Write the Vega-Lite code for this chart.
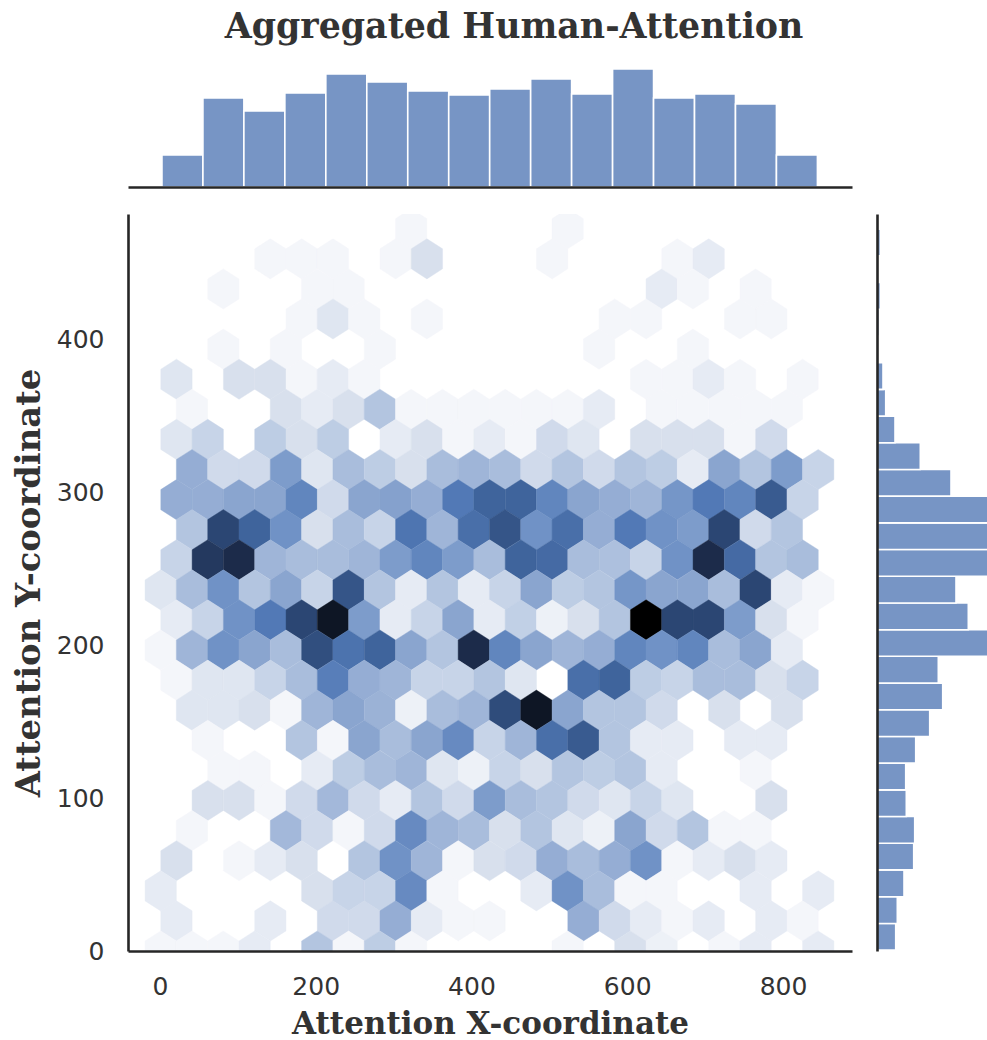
{"$schema":"https://vega.github.io/schema/vega-lite/v6.json","background":"white","padding":{"left":12,"top":10,"right":0,"bottom":0},"config":{"view":{"stroke":null},"font":"DejaVu Sans"},"bounds":"flush","columns":2,"spacing":{"row":27,"column":25},"concat":[
{"width":724,"height":119,"title":{"text":"Aggregated Human-Attention","font":"DejaVu Serif","fontWeight":"bold","fontSize":34.8,"color":"#333333","anchor":"middle","dx":24,"offset":22},
"data":{"values":[{"a":2.6,"b":55.2,"n":32},{"a":55.2,"b":107.8,"n":89},{"a":107.8,"b":160.4,"n":76},{"a":160.4,"b":213,"n":94},{"a":213,"b":265.6,"n":113},{"a":265.6,"b":318.2,"n":105},{"a":318.2,"b":370.8,"n":96},{"a":370.8,"b":423.4,"n":92},{"a":423.4,"b":476,"n":98},{"a":476,"b":528.6,"n":108},{"a":528.6,"b":581.2,"n":93},{"a":581.2,"b":633.8,"n":118},{"a":633.8,"b":686.4,"n":89},{"a":686.4,"b":739,"n":93},{"a":739,"b":791.6,"n":83},{"a":791.6,"b":844.2,"n":32}]},
"mark":{"type":"bar","color":"#7795c5","stroke":"white","strokeWidth":1.6},
"encoding":{"x":{"field":"a","type":"quantitative","scale":{"domain":[-41,888.6],"nice":false,"zero":false},"axis":{"zindex":1,"labels":false,"ticks":false,"grid":false,"title":null,"domainColor":"#262626","domainWidth":2.6}},"x2":{"field":"b"},"y":{"field":"n","type":"quantitative","scale":{"domain":[0,119],"nice":false},"axis":null},"y2":{"datum":0}}},
{"width":110,"height":119,"data":{"values":[{"a":1}]},"mark":{"type":"rule","opacity":0},"encoding":{}},
{"width":724,"height":737,
"data":{"values":[
{"x":322.6,"y":472.1,"c":1},{"x":523.6,"y":472.1,"c":1},
{"x":141.8,"y":452.4,"c":1},{"x":182,"y":452.4,"c":1},{"x":222.2,"y":452.4,"c":1},{"x":302.6,"y":452.4,"c":1},{"x":342.8,"y":452.4,"c":3},{"x":503.6,"y":452.4,"c":1},{"x":664.4,"y":452.4,"c":1},{"x":704.6,"y":452.4,"c":2},
{"x":81.4,"y":432.7,"c":1},{"x":202,"y":432.7,"c":1},{"x":242.2,"y":432.7,"c":1},{"x":644.2,"y":432.7,"c":2},{"x":684.4,"y":432.7,"c":1},{"x":764.8,"y":432.7,"c":1},
{"x":182,"y":413.1,"c":1},{"x":222.2,"y":413.1,"c":2.5},{"x":262.4,"y":413.1,"c":1},{"x":342.8,"y":413.1,"c":1},{"x":584,"y":413.1,"c":1},{"x":624.2,"y":413.1,"c":1},{"x":744.8,"y":413.1,"c":1},{"x":785,"y":413.1,"c":1},
{"x":81.4,"y":393.4,"c":1},{"x":161.8,"y":393.4,"c":1},{"x":282.4,"y":393.4,"c":1},{"x":563.8,"y":393.4,"c":1},{"x":684.4,"y":393.4,"c":1},
{"x":21.2,"y":373.7,"c":2.5},{"x":101.6,"y":373.7,"c":3},{"x":141.8,"y":373.7,"c":3},{"x":182,"y":373.7,"c":1},{"x":222.2,"y":373.7,"c":2},{"x":262.4,"y":373.7,"c":1},{"x":624.2,"y":373.7,"c":1},{"x":664.4,"y":373.7,"c":1},{"x":704.6,"y":373.7,"c":2},{"x":744.8,"y":373.7,"c":1},{"x":825.2,"y":373.7,"c":1},
{"x":41.2,"y":354.1,"c":1},{"x":161.8,"y":354.1,"c":3},{"x":202,"y":354.1,"c":2},{"x":242.2,"y":354.1,"c":3},{"x":282.4,"y":354.1,"c":5},{"x":322.6,"y":354.1,"c":1},{"x":362.8,"y":354.1,"c":1},{"x":403,"y":354.1,"c":1},{"x":443.2,"y":354.1,"c":1},{"x":483.4,"y":354.1,"c":1},{"x":523.6,"y":354.1,"c":1},{"x":563.8,"y":354.1,"c":2},{"x":644.2,"y":354.1,"c":1},{"x":684.4,"y":354.1,"c":1},{"x":724.6,"y":354.1,"c":1},{"x":764.8,"y":354.1,"c":1},{"x":805,"y":354.1,"c":1},
{"x":21.2,"y":334.4,"c":2.5},{"x":61.4,"y":334.4,"c":4},{"x":141.8,"y":334.4,"c":4.5},{"x":182,"y":334.4,"c":3},{"x":222.2,"y":334.4,"c":4.5},{"x":302.6,"y":334.4,"c":2},{"x":342.8,"y":334.4,"c":3},{"x":383,"y":334.4,"c":1},{"x":423.2,"y":334.4,"c":2},{"x":463.4,"y":334.4,"c":1},{"x":503.6,"y":334.4,"c":3.5},{"x":543.8,"y":334.4,"c":2.5},{"x":624.2,"y":334.4,"c":3},{"x":664.4,"y":334.4,"c":3},{"x":704.6,"y":334.4,"c":3},{"x":744.8,"y":334.4,"c":1},{"x":785,"y":334.4,"c":3.5},
{"x":41.2,"y":314.7,"c":6.5},{"x":81.4,"y":314.7,"c":3.5},{"x":121.6,"y":314.7,"c":3.5},{"x":161.8,"y":314.7,"c":7.5},{"x":202,"y":314.7,"c":2.5},{"x":242.2,"y":314.7,"c":5.5},{"x":282.4,"y":314.7,"c":4.5},{"x":322.6,"y":314.7,"c":3},{"x":362.8,"y":314.7,"c":5.5},{"x":403,"y":314.7,"c":6},{"x":443.2,"y":314.7,"c":5.5},{"x":483.4,"y":314.7,"c":3.5},{"x":523.6,"y":314.7,"c":5},{"x":563.8,"y":314.7,"c":3.5},{"x":604,"y":314.7,"c":5},{"x":644.2,"y":314.7,"c":4.5},{"x":684.4,"y":314.7,"c":2},{"x":724.6,"y":314.7,"c":7},{"x":764.8,"y":314.7,"c":5},{"x":805,"y":314.7,"c":7.5},{"x":845.2,"y":314.7,"c":4},
{"x":21.2,"y":295,"c":6.5},{"x":61.4,"y":295,"c":6.5},{"x":101.6,"y":295,"c":7},{"x":141.8,"y":295,"c":7},{"x":182,"y":295,"c":8.5},{"x":222.2,"y":295,"c":3.5},{"x":262.4,"y":295,"c":7},{"x":302.6,"y":295,"c":7.2},{"x":342.8,"y":295,"c":6.5},{"x":383,"y":295,"c":9},{"x":423.2,"y":295,"c":10},{"x":463.4,"y":295,"c":10},{"x":503.6,"y":295,"c":8.5},{"x":543.8,"y":295,"c":7},{"x":584,"y":295,"c":6.5},{"x":624.2,"y":295,"c":6},{"x":664.4,"y":295,"c":7.8},{"x":704.6,"y":295,"c":9},{"x":744.8,"y":295,"c":8.5},{"x":785,"y":295,"c":10.3},{"x":825.2,"y":295,"c":4},
{"x":41.2,"y":275.4,"c":5},{"x":81.4,"y":275.4,"c":11},{"x":121.6,"y":275.4,"c":10},{"x":161.8,"y":275.4,"c":8},{"x":202,"y":275.4,"c":3},{"x":242.2,"y":275.4,"c":5.5},{"x":282.4,"y":275.4,"c":4},{"x":322.6,"y":275.4,"c":9.2},{"x":362.8,"y":275.4,"c":6},{"x":403,"y":275.4,"c":9.5},{"x":443.2,"y":275.4,"c":10.5},{"x":483.4,"y":275.4,"c":8},{"x":523.6,"y":275.4,"c":9.5},{"x":563.8,"y":275.4,"c":6.5},{"x":604,"y":275.4,"c":9},{"x":644.2,"y":275.4,"c":8},{"x":684.4,"y":275.4,"c":7.5},{"x":724.6,"y":275.4,"c":11},{"x":764.8,"y":275.4,"c":3.5},{"x":805,"y":275.4,"c":5},
{"x":21.2,"y":255.7,"c":4},{"x":61.4,"y":255.7,"c":11.5},{"x":101.6,"y":255.7,"c":12},{"x":141.8,"y":255.7,"c":6},{"x":182,"y":255.7,"c":5.5},{"x":222.2,"y":255.7,"c":5.5},{"x":262.4,"y":255.7,"c":6},{"x":302.6,"y":255.7,"c":7.5},{"x":342.8,"y":255.7,"c":8.5},{"x":383,"y":255.7,"c":7.5},{"x":423.2,"y":255.7,"c":5.5},{"x":463.4,"y":255.7,"c":10},{"x":503.6,"y":255.7,"c":9.7},{"x":543.8,"y":255.7,"c":5.5},{"x":584,"y":255.7,"c":5.3},{"x":624.2,"y":255.7,"c":4},{"x":664.4,"y":255.7,"c":8},{"x":704.6,"y":255.7,"c":12},{"x":744.8,"y":255.7,"c":9.7},{"x":785,"y":255.7,"c":5},{"x":825.2,"y":255.7,"c":5.5},
{"x":1,"y":236,"c":2.5},{"x":41.2,"y":236,"c":5.5},{"x":81.4,"y":236,"c":8},{"x":121.6,"y":236,"c":5},{"x":161.8,"y":236,"c":7},{"x":202,"y":236,"c":4},{"x":242.2,"y":236,"c":10.5},{"x":282.4,"y":236,"c":5},{"x":322.6,"y":236,"c":2},{"x":362.8,"y":236,"c":5},{"x":403,"y":236,"c":2},{"x":443.2,"y":236,"c":4},{"x":483.4,"y":236,"c":7},{"x":523.6,"y":236,"c":4.5},{"x":563.8,"y":236,"c":5},{"x":604,"y":236,"c":7.8},{"x":644.2,"y":236,"c":7},{"x":684.4,"y":236,"c":7},{"x":724.6,"y":236,"c":5.5},{"x":764.8,"y":236,"c":11},{"x":805,"y":236,"c":2},{"x":845.2,"y":236,"c":1},
{"x":21.2,"y":216.4,"c":2},{"x":61.4,"y":216.4,"c":4},{"x":101.6,"y":216.4,"c":8},{"x":141.8,"y":216.4,"c":9},{"x":182,"y":216.4,"c":11},{"x":222.2,"y":216.4,"c":12.5},{"x":262.4,"y":216.4,"c":7.5},{"x":302.6,"y":216.4,"c":2},{"x":342.8,"y":216.4,"c":4},{"x":383,"y":216.4,"c":7},{"x":423.2,"y":216.4,"c":2},{"x":463.4,"y":216.4,"c":4.3},{"x":503.6,"y":216.4,"c":1.5},{"x":543.8,"y":216.4,"c":3},{"x":584,"y":216.4,"c":5},{"x":624.2,"y":216.4,"c":13},{"x":664.4,"y":216.4,"c":11},{"x":704.6,"y":216.4,"c":11},{"x":744.8,"y":216.4,"c":7.5},{"x":785,"y":216.4,"c":3},{"x":825.2,"y":216.4,"c":1},
{"x":1,"y":196.7,"c":1},{"x":41.2,"y":196.7,"c":6},{"x":81.4,"y":196.7,"c":8},{"x":121.6,"y":196.7,"c":7},{"x":161.8,"y":196.7,"c":5.5},{"x":202,"y":196.7,"c":10.7},{"x":242.2,"y":196.7,"c":9.3},{"x":282.4,"y":196.7,"c":10},{"x":322.6,"y":196.7,"c":7},{"x":362.8,"y":196.7,"c":5},{"x":403,"y":196.7,"c":12},{"x":443.2,"y":196.7,"c":8.5},{"x":483.4,"y":196.7,"c":7},{"x":523.6,"y":196.7,"c":6},{"x":563.8,"y":196.7,"c":6.5},{"x":604,"y":196.7,"c":8.5},{"x":644.2,"y":196.7,"c":8},{"x":684.4,"y":196.7,"c":8.5},{"x":724.6,"y":196.7,"c":5.5},{"x":764.8,"y":196.7,"c":7},{"x":805,"y":196.7,"c":2},
{"x":21.2,"y":177,"c":1},{"x":61.4,"y":177,"c":2.5},{"x":101.6,"y":177,"c":2.5},{"x":141.8,"y":177,"c":4},{"x":182,"y":177,"c":5.5},{"x":222.2,"y":177,"c":8.8},{"x":262.4,"y":177,"c":6.5},{"x":302.6,"y":177,"c":6},{"x":342.8,"y":177,"c":4},{"x":383,"y":177,"c":4},{"x":423.2,"y":177,"c":5},{"x":463.4,"y":177,"c":2.5},{"x":543.8,"y":177,"c":9.5},{"x":584,"y":177,"c":10},{"x":624.2,"y":177,"c":4.5},{"x":664.4,"y":177,"c":4},{"x":704.6,"y":177,"c":5.5},{"x":744.8,"y":177,"c":5.5},{"x":785,"y":177,"c":3},{"x":825.2,"y":177,"c":4},
{"x":41.2,"y":157.4,"c":2.5},{"x":81.4,"y":157.4,"c":2.5},{"x":121.6,"y":157.4,"c":3},{"x":161.8,"y":157.4,"c":1},{"x":202,"y":157.4,"c":6},{"x":242.2,"y":157.4,"c":7},{"x":282.4,"y":157.4,"c":6.2},{"x":322.6,"y":157.4,"c":1.5},{"x":362.8,"y":157.4,"c":5.5},{"x":403,"y":157.4,"c":6},{"x":443.2,"y":157.4,"c":10.8},{"x":483.4,"y":157.4,"c":12.5},{"x":523.6,"y":157.4,"c":7},{"x":563.8,"y":157.4,"c":5},{"x":604,"y":157.4,"c":5},{"x":644.2,"y":157.4,"c":3.5},{"x":724.6,"y":157.4,"c":3},{"x":805,"y":157.4,"c":3},
{"x":61.4,"y":137.7,"c":1},{"x":182,"y":137.7,"c":5},{"x":222.2,"y":137.7,"c":1},{"x":262.4,"y":137.7,"c":7},{"x":302.6,"y":137.7,"c":5.5},{"x":342.8,"y":137.7,"c":7},{"x":383,"y":137.7,"c":8.3},{"x":423.2,"y":137.7,"c":4},{"x":463.4,"y":137.7,"c":6},{"x":503.6,"y":137.7,"c":9.5},{"x":543.8,"y":137.7,"c":10.3},{"x":584,"y":137.7,"c":5},{"x":624.2,"y":137.7,"c":2},{"x":664.4,"y":137.7,"c":2},{"x":744.8,"y":137.7,"c":2},{"x":785,"y":137.7,"c":2},
{"x":81.4,"y":118,"c":1},{"x":121.6,"y":118,"c":1},{"x":202,"y":118,"c":2},{"x":242.2,"y":118,"c":4.5},{"x":282.4,"y":118,"c":5.5},{"x":322.6,"y":118,"c":6},{"x":362.8,"y":118,"c":2.5},{"x":403,"y":118,"c":1.5},{"x":443.2,"y":118,"c":4},{"x":483.4,"y":118,"c":3},{"x":523.6,"y":118,"c":5},{"x":563.8,"y":118,"c":4.5},{"x":604,"y":118,"c":5},{"x":644.2,"y":118,"c":2},{"x":764.8,"y":118,"c":1},
{"x":61.4,"y":98.4,"c":3},{"x":101.6,"y":98.4,"c":3},{"x":141.8,"y":98.4,"c":1},{"x":182,"y":98.4,"c":3.5},{"x":222.2,"y":98.4,"c":5.8},{"x":262.4,"y":98.4,"c":3.5},{"x":302.6,"y":98.4,"c":2},{"x":342.8,"y":98.4,"c":5},{"x":383,"y":98.4,"c":3.5},{"x":423.2,"y":98.4,"c":7.5},{"x":463.4,"y":98.4,"c":5.5},{"x":503.6,"y":98.4,"c":5},{"x":543.8,"y":98.4,"c":3.5},{"x":584,"y":98.4,"c":2.5},{"x":624.2,"y":98.4,"c":4},{"x":664.4,"y":98.4,"c":2.5},{"x":785,"y":98.4,"c":3},
{"x":41.2,"y":78.7,"c":1},{"x":161.8,"y":78.7,"c":5.8},{"x":202,"y":78.7,"c":3.5},{"x":242.2,"y":78.7,"c":1},{"x":282.4,"y":78.7,"c":3.5},{"x":322.6,"y":78.7,"c":8.3},{"x":362.8,"y":78.7,"c":6},{"x":403,"y":78.7,"c":5.5},{"x":443.2,"y":78.7,"c":3},{"x":483.4,"y":78.7,"c":5},{"x":523.6,"y":78.7,"c":2.5},{"x":563.8,"y":78.7,"c":1.5},{"x":604,"y":78.7,"c":7},{"x":644.2,"y":78.7,"c":3.5},{"x":684.4,"y":78.7,"c":5},{"x":724.6,"y":78.7,"c":1},{"x":764.8,"y":78.7,"c":1},
{"x":21.2,"y":59,"c":3},{"x":101.6,"y":59,"c":1},{"x":141.8,"y":59,"c":2},{"x":182,"y":59,"c":3},{"x":262.4,"y":59,"c":5},{"x":302.6,"y":59,"c":8},{"x":342.8,"y":59,"c":6},{"x":383,"y":59,"c":1},{"x":423.2,"y":59,"c":3},{"x":463.4,"y":59,"c":3.5},{"x":503.6,"y":59,"c":6.5},{"x":543.8,"y":59,"c":5.5},{"x":584,"y":59,"c":6.5},{"x":624.2,"y":59,"c":8},{"x":664.4,"y":59,"c":1},{"x":704.6,"y":59,"c":2},{"x":744.8,"y":59,"c":3},{"x":785,"y":59,"c":2},
{"x":1,"y":39.3,"c":2},{"x":202,"y":39.3,"c":3},{"x":242.2,"y":39.3,"c":4},{"x":282.4,"y":39.3,"c":4},{"x":322.6,"y":39.3,"c":8.3},{"x":362.8,"y":39.3,"c":1},{"x":483.4,"y":39.3,"c":2},{"x":523.6,"y":39.3,"c":8},{"x":563.8,"y":39.3,"c":5.5},{"x":604,"y":39.3,"c":1},{"x":644.2,"y":39.3,"c":1},{"x":764.8,"y":39.3,"c":2},{"x":845.2,"y":39.3,"c":2},
{"x":21.2,"y":19.7,"c":2},{"x":141.8,"y":19.7,"c":2},{"x":222.2,"y":19.7,"c":3.5},{"x":262.4,"y":19.7,"c":3.5},{"x":302.6,"y":19.7,"c":6.5},{"x":342.8,"y":19.7,"c":2},{"x":383,"y":19.7,"c":1},{"x":423.2,"y":19.7,"c":1},{"x":543.8,"y":19.7,"c":6.5},{"x":584,"y":19.7,"c":3.5},{"x":624.2,"y":19.7,"c":2},{"x":664.4,"y":19.7,"c":1},{"x":704.6,"y":19.7,"c":2},{"x":785,"y":19.7,"c":2},{"x":825.2,"y":19.7,"c":1},
{"x":1,"y":0,"c":1},{"x":41.2,"y":0,"c":1},{"x":81.4,"y":0,"c":1},{"x":121.6,"y":0,"c":2},{"x":202,"y":0,"c":5},{"x":242.2,"y":0,"c":1},{"x":282.4,"y":0,"c":4.5},{"x":322.6,"y":0,"c":1},{"x":523.6,"y":0,"c":1},{"x":604,"y":0,"c":3},{"x":644.2,"y":0,"c":1.5},{"x":724.6,"y":0,"c":1},{"x":764.8,"y":0,"c":2},{"x":845.2,"y":0,"c":2}
]},
"mark":{"type":"point","shape":"M0,-1L0.78,-0.5L0.78,0.5L0,1L-0.78,0.5L-0.78,-0.5Z","filled":true,"clip":true,"opacity":1,"size":1611,"strokeWidth":0.4},
"encoding":{"x":{"field":"x","type":"quantitative","scale":{"domain":[-41,888.6],"nice":false,"zero":false},"axis":{"zindex":1,"values":[0,200,400,600,800],"title":"Attention X-coordinate","titleFont":"DejaVu Serif","titleFontWeight":"bold","titleFontSize":31,"titleColor":"#333333","titlePadding":10,"labelFontSize":25,"labelColor":"#333333","labelPadding":23,"ticks":false,"grid":false,"domainColor":"#262626","domainWidth":2.6,"labelFont":"DejaVu Sans"}},
"y":{"field":"y","type":"quantitative","scale":{"domain":[0,481.7],"nice":false,"zero":false},"axis":{"zindex":1,"values":[0,100,200,300,400],"title":"Attention Y-coordinate","titleFont":"DejaVu Serif","titleFontWeight":"bold","titleFontSize":33.8,"titleColor":"#333333","titlePadding":10,"labelFontSize":25,"labelColor":"#333333","labelPadding":24,"ticks":false,"grid":false,"domainColor":"#262626","domainWidth":2.6,"labelFont":"DejaVu Sans"}},
"fill":{"field":"c","type":"quantitative","legend":null,"scale":{"interpolate":"rgb","domain":[0,1,2,3,4,5,6,7,8,9,10,11,12,13],"range":["#ffffff","#f4f6fa","#e6ebf4","#d8e0ed","#c7d4e8","#b3c5e0","#9fb5d8","#8aa5cf","#7092c6","#5279b6","#3f649c","#2b4673","#1c2b4a","#000000"]}},
"stroke":{"field":"c","type":"quantitative","legend":null,"scale":{"interpolate":"rgb","domain":[0,1,2,3,4,5,6,7,8,9,10,11,12,13],"range":["#ffffff","#f4f6fa","#e6ebf4","#d8e0ed","#c7d4e8","#b3c5e0","#9fb5d8","#8aa5cf","#7092c6","#5279b6","#3f649c","#2b4673","#1c2b4a","#000000"]}}}},
{"width":110,"height":737,
"data":{"values":[{"a":0.6,"b":18,"n":18.7},{"a":18,"b":35.5,"n":20.3},{"a":35.5,"b":53,"n":27},{"a":53,"b":70.4,"n":36.7},{"a":70.4,"b":87.9,"n":37.7},{"a":87.9,"b":105.3,"n":29.3},{"a":105.3,"b":122.8,"n":28.7},{"a":122.8,"b":140.2,"n":38.7},{"a":140.2,"b":157.7,"n":52.7},{"a":157.7,"b":175.1,"n":65.7},{"a":175.1,"b":192.6,"n":61.3},{"a":192.6,"b":210,"n":115},{"a":210,"b":227.5,"n":91.3},{"a":227.5,"b":244.9,"n":79},{"a":244.9,"b":262.4,"n":112},{"a":262.4,"b":279.8,"n":118},{"a":279.8,"b":297.3,"n":114},{"a":297.3,"b":314.7,"n":74},{"a":314.7,"b":332.2,"n":43.3},{"a":332.2,"b":349.6,"n":18},{"a":349.6,"b":367.1,"n":8.7},{"a":367.1,"b":384.5,"n":6},{"a":402,"b":419.4,"n":2.2},{"a":419.4,"b":436.9,"n":3.4},{"a":454.3,"b":471.8,"n":3.4}]},
"mark":{"type":"bar","color":"#7795c5","stroke":"white","strokeWidth":1.6,"clip":true},
"encoding":{"y":{"field":"a","type":"quantitative","scale":{"domain":[0,481.7],"nice":false,"zero":false},"axis":{"zindex":1,"labels":false,"ticks":false,"grid":false,"title":null,"domainColor":"#262626","domainWidth":2.6}},"y2":{"field":"b"},"x":{"field":"n","type":"quantitative","scale":{"domain":[0,110],"nice":false},"axis":null},"x2":{"datum":0}}}
]}
